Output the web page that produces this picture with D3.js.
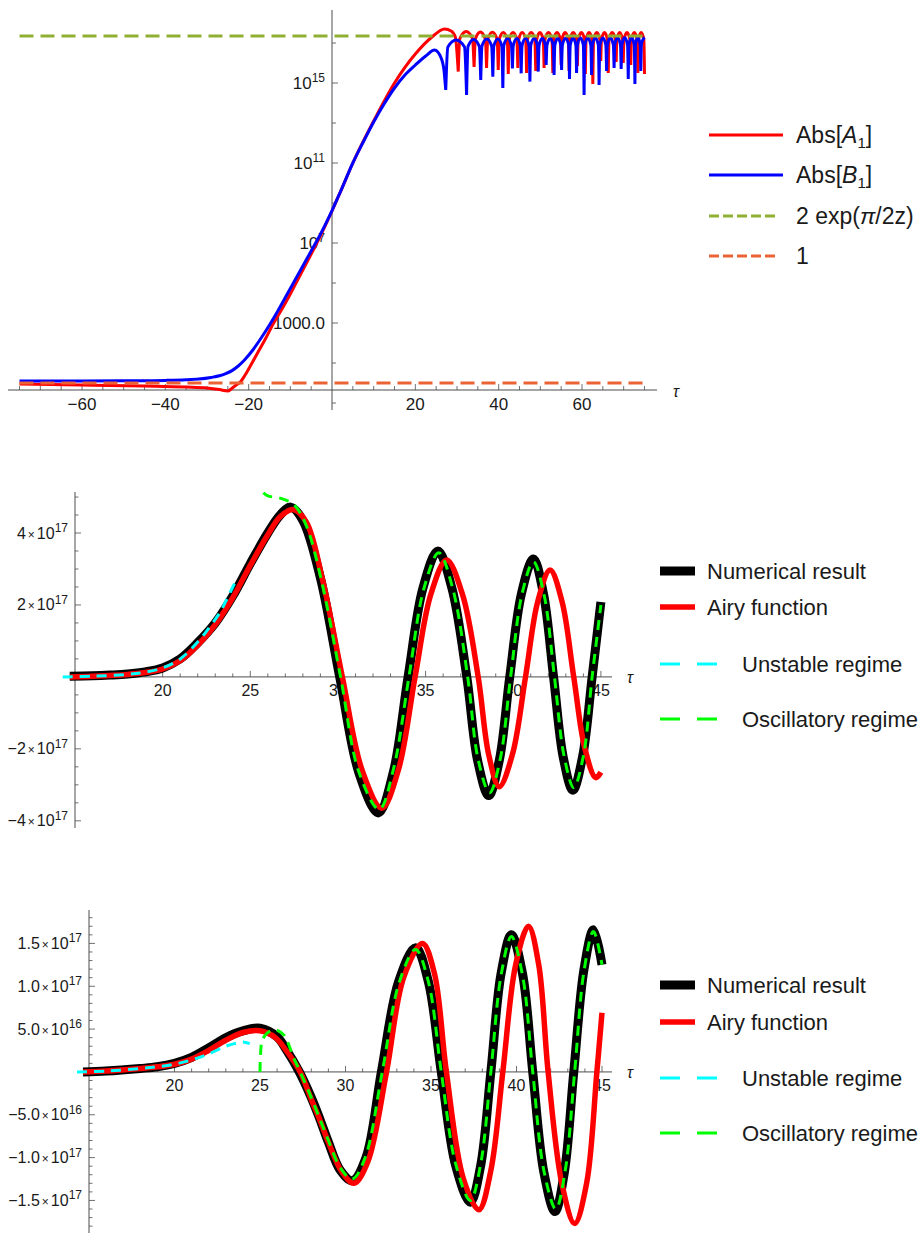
<!DOCTYPE html>
<html><head><meta charset="utf-8">
<script src="https://cdn.jsdelivr.net/npm/d3@7/dist/d3.min.js"></script>
<style>
body{margin:0;background:#fff;}
svg{display:block;}
text{font-family:"Liberation Sans",Arial,Helvetica,sans-serif;fill:#1a1a1a;}
</style></head><body>
<svg id="chart" width="922" height="1233"></svg>
<script>
// ================= DATA =================
// ---- Panel 1 : log10 of |A1| and |B1| versus tau ----
const p1A1Tau = [-75,-60,-45,-35,-30,-27,-25,-24.2,-23,-22,-21,-20,-18,-16,-14,-12,-10,-8,-6,-4,-2,0,2,5,10,15,20,24,27,28.6,29.6];
const p1A1Log = [-0.05,-0.1,-0.15,-0.2,-0.25,-0.33,-0.4,-0.3,-0.1,0.05,0.35,0.7,1.45,2.2,3.0,3.7,4.45,5.25,6.05,6.85,7.7,8.6,9.55,11.0,13.1,15.0,16.45,17.3,17.7,17.6,17.3];
const p1A1SpikeTau = [30.3,34.1,37.1,39.9,42.3,44.6,46.7,48.9,50.9,53.0,55.0,56.9,58.9,60.8,62.6,64.5,66.3,68.2,69.9,71.7,73.4,75.0];
const p1A1SpikeLog = [15.57,15.8,15.75,15.65,15.45,15.75,15.5,15.6,15.75,15.5,15.9,15.6,15.85,15.45,14.95,16.1,15.5,16.05,16.0,15.9,15.5,15.45];
const p1A1TopLog = [17.57,17.55,17.54,17.53,17.52,17.52,17.52,17.52,17.52,17.52,17.52,17.52,17.52,17.52,17.52,17.52,17.52,17.52,17.52,17.52,17.52];

const p1B1Tau = [-75,-60,-50,-40,-35,-32,-29,-27,-25.5,-24,-22.5,-21,-19,-17,-15,-13,-11,-9,-7,-5,-3,0,2,5,7.5,10,12.5,15,17.5,20,22.5,24.6,26.2,26.9];
const p1B1Log = [0.1,0.1,0.11,0.13,0.16,0.2,0.28,0.36,0.47,0.62,0.85,1.15,1.65,2.25,2.9,3.6,4.35,5.1,5.85,6.6,7.35,8.62,9.55,11.0,12.05,13.05,13.95,14.75,15.4,15.9,16.35,16.65,16.25,15.6];
const p1B1SpikeTau = [27.3,32.3,35.7,38.6,41.0,43.3,45.4,47.5,49.5,51.4,53.3,55.1,57.0,58.7,60.5,62.3,64.1,65.9,67.7,69.4,71.1,72.7,74.1];
const p1B1SpikeLog = [14.65,14.4,15.15,15.32,14.75,15.73,15.48,15.07,15.57,15.9,15.4,15.65,15.2,15.5,14.4,15.4,14.9,15.6,15.75,15.7,15.2,14.95,15.6];
const p1B1TopLog = [17.15,17.18,17.2,17.2,17.22,17.22,17.22,17.23,17.23,17.23,17.24,17.24,17.24,17.25,17.25,17.25,17.25,17.26,17.26,17.26,17.27,17.27];
const p1B1End = [75, 17.28];

const p1Asymptote = 2.24e17;   // 2 exp(pi/2z)
const p1One = 1;
const p1XMajor = [-60,-40,-20,20,40,60];
const p1XMinor = [-75,-70,-65,-55,-50,-45,-35,-30,-25,-15,-10,-5,5,10,15,25,30,35,45,50,55,65,70,75];
const p1YMajorExp = [3,7,11,15];
const p1YMinorExp = [-1,1,5,9,13,17];

// ---- Panel 2 : values in units of 1e17 ----
const p2NumTau = [14.7,16,17,18,19,20,21,22,23,24,25,26,26.7,27.3,28.0,29.0,30.1,31.2,32.3,33.15,34.0,34.85,35.7,36.5,37.35,37.97,38.6,39.2,39.8,40.47,41.15,41.72,42.3,42.85,43.4,43.95,44.5,45.0];
const p2NumVal = [0.02,0.03,0.05,0.08,0.14,0.25,0.5,0.95,1.5,2.25,3.15,4.0,4.5,4.72,4.35,2.75,0,-2.67,-3.78,-2.67,0,2.47,3.5,2.47,0,-2.33,-3.3,-2.33,0,2.32,3.28,2.32,0,-2.23,-3.15,-2.23,0,2.08];
const p2AiryTau = [14.7,16,18,19,20,21,22,23,24,25,26,26.7,27.45,28.2,29.1,30.25,31.37,32.5,33.45,34.4,35.3,36.2,37.1,38.0,38.6,39.2,39.95,40.7,41.4,42.1,42.78,43.45,44.08,44.7,45.0];
const p2AiryVal = [0.0,0.02,0.07,0.12,0.22,0.45,0.88,1.45,2.2,3.1,3.95,4.45,4.65,4.3,2.75,0,-2.58,-3.65,-2.58,0,2.3,3.25,2.3,0,-2.16,-3.05,-2.16,0,2.1,2.97,2.1,0,-1.98,-2.8,-2.65];
const p2UnstTau = [14.3,16,18,19,20,21,22,22.7,23.3,23.7,24.15];
const p2UnstVal = [0.0,0.02,0.07,0.13,0.25,0.5,0.97,1.4,1.82,2.2,2.65];
const p2OscTau = [25.75,26.0,26.7,27.5,28.2,29.05,30.15,31.2,32.35,33.15,34.05,34.9,35.75,36.55,37.4,38.0,38.65,39.25,39.85,40.5,41.15,41.75,42.35,42.9,43.45,44.0,44.5,45.0];
const p2OscVal = [5.12,5.03,4.97,4.78,4.2,2.7,0,-2.65,-3.68,-2.6,0,2.45,3.45,2.45,0,-2.3,-3.22,-2.3,0,2.3,3.2,2.3,0,-2.2,-3.08,-2.2,0,2.0];
const p2YTicks = [-4,-2,2,4];
const p2YMant = ["\u22124","\u22122","2","4"];
const p2YExp = ["17","17","17","17"];
const p2XTicks = [20,25,30,35,40,45];

// ---- Panel 3 : values in units of 1e17 ----
const p3NumTau = [14.65,16,18,19,20,21,22,23,24,25,26,26.6,27.3,28.0,28.5,29.0,29.7,30.4,31.2,32.1,33.1,34.1,34.85,35.6,36.45,37.3,37.9,38.5,39.1,39.7,40.35,40.95,41.6,42.25,42.8,43.35,43.95,44.5,45.0];
const p3NumVal = [0.0,0.01,0.04,0.06,0.1,0.17,0.28,0.4,0.48,0.51,0.41,0.24,0,-0.3,-0.55,-0.82,-1.15,-1.27,-1.0,0,1.05,1.45,1.05,0,-1.1,-1.52,-1.1,0,1.15,1.6,1.15,0,-1.17,-1.63,-1.17,0,1.2,1.66,1.25];
const p3AiryTau = [14.65,16,18,19,20,21,22,23,24,25,25.9,26.6,27.35,28.0,28.5,29.0,29.8,30.5,31.3,32.4,33.4,34.5,35.2,35.9,36.9,37.8,38.5,39.2,39.95,40.7,41.3,41.85,42.65,43.4,44.1,44.7,45.0];
const p3AiryVal = [0.0,0.01,0.04,0.06,0.09,0.15,0.25,0.37,0.46,0.48,0.4,0.23,0,-0.32,-0.56,-0.82,-1.17,-1.3,-1.05,0,1.1,1.5,1.15,0,-1.25,-1.61,-1.15,0,1.25,1.7,1.25,0,-1.3,-1.77,-1.3,0,0.69];
const p3UnstTau = [14.3,16,18,19,20,21,22,23,23.5,24,24.4];
const p3UnstVal = [0.0,0.01,0.04,0.06,0.09,0.14,0.21,0.3,0.33,0.35,0.33];
const p3OscTau = [25.0,25.03,25.12,25.35,25.65,25.95,26.4,27.0,27.35,28.0,28.5,29.0,29.7,30.4,31.15,32.15,33.15,34.1,34.85,35.6,36.45,37.3,37.9,38.5,39.1,39.7,40.35,40.95,41.6,42.3,42.85,43.4,43.95,44.5,45.0];
const p3OscVal = [0.0,0.2,0.36,0.44,0.48,0.49,0.43,0.15,0,-0.3,-0.55,-0.8,-1.12,-1.25,-1.0,0,1.05,1.43,1.05,0,-1.08,-1.5,-1.08,0,1.13,1.58,1.13,0,-1.15,-1.6,-1.15,0,1.18,1.64,1.25];
const p3YTicks = [-1.5,-1.0,-0.5,0.5,1.0,1.5];
const p3YMant = ["\u22121.5","\u22121.0","\u22125.0","5.0","1.0","1.5"];
const p3YExp = ["17","17","16","16","17","17"];
const p3XTicks = [20,25,30,35,40,45];

const legend1 = ["Abs[A1]","Abs[B1]","2 exp(\u03c0/2z)","1"];
const legend23 = ["Numerical result","Airy function","Unstable regime","Oscillatory regime"];

// ================= DRAW =================
const svg = d3.select("#chart");
svg.append("rect").attr("width",922).attr("height",1233).attr("fill","#fff");
const AX = "#4d4d4d";
const zip = (a,b)=>a.map((t,i)=>[t,b[i]]);

function line(g,x1,y1,x2,y2,w){
  g.append("line").attr("x1",x1).attr("y1",y1).attr("x2",x2).attr("y2",y2)
   .attr("stroke",AX).attr("stroke-width",w||1);
}

// ---------- Panel 1 ----------
(function(){
  const g = svg.append("g");
  const x = d3.scaleLinear().domain([-75,75]).range([19.5,644.5]);
  const y = d3.scaleLog().domain([Math.pow(10,-1.35),Math.pow(10,18.65)]).range([410,10]);
  const yl = v=>y(Math.pow(10,v));
  const axY = yl(-0.35), axX = x(0);
  line(g,8,axY,657,axY);
  line(g,axX,10,axX,410);
  p1XMajor.forEach(t=>line(g,x(t),axY,x(t),axY-6,0.8));
  p1XMinor.forEach(t=>line(g,x(t),axY,x(t),axY-4,0.8));
  p1YMajorExp.forEach(e=>line(g,axX,yl(e),axX+6,yl(e),0.8));
  p1YMinorExp.forEach(e=>line(g,axX,yl(e),axX+4,yl(e),0.8));
  g.selectAll(".xl").data(p1XMajor).enter().append("text")
    .attr("x",d=>x(d)).attr("y",axY+20).attr("text-anchor","middle").attr("font-size",17)
    .text(d=>d<0?"\u2212"+Math.abs(d):String(d));
  p1YMajorExp.forEach(e=>{
    const t = g.append("text").attr("x",325).attr("y",yl(e)+6).attr("text-anchor","end").attr("font-size",17);
    if(e===3){ t.text("1000.0"); }
    else { t.append("tspan").text("10"); t.append("tspan").attr("dy",-7).attr("font-size",12).text(String(e)); }
  });
  g.append("text").attr("x",676).attr("y",397).attr("text-anchor","middle").attr("font-size",16)
    .attr("font-style","italic").text("\u03c4");

  const gen = d3.line().x(d=>x(d[0])).y(d=>yl(d[1])).curve(d3.curveMonotoneX);
  function spiky(smT,smL,spT,spL,topL,end){
    const segs=[zip(smT,smL).concat([[spT[0],spL[0]]])];
    for(let i=0;i<spT.length-1;i++){
      const a=spT[i], b=spT[i+1], w=b-a, m=(a+b)/2, top=topL[i];
      segs.push([[a,spL[i]],[a+0.1*w,top-0.35],[m,top],[b-0.1*w,top-0.35],[b,spL[i+1]]]);
    }
    if(end){
      const a=spT[spT.length-1], w=end[0]-a;
      segs.push([[a,spL[spL.length-1]],[a+0.2*w,end[1]-0.3],[end[0],end[1]]]);
    }
    return segs.map(s=>gen(s)).join("");
  }
  g.append("path").attr("d",spiky(p1A1Tau,p1A1Log,p1A1SpikeTau,p1A1SpikeLog,p1A1TopLog,null))
    .attr("fill","none").attr("stroke","#ff0000").attr("stroke-width",3);
  g.append("path").attr("d",spiky(p1B1Tau,p1B1Log,p1B1SpikeTau,p1B1SpikeLog,p1B1TopLog,p1B1End))
    .attr("fill","none").attr("stroke","#0000ff").attr("stroke-width",3);
  g.append("line").attr("x1",x(-75)).attr("x2",x(75)).attr("y1",y(p1Asymptote)).attr("y2",y(p1Asymptote))
    .attr("stroke","#8FB032").attr("stroke-width",3).attr("stroke-dasharray","14,7");
  g.append("line").attr("x1",x(-75)).attr("x2",x(75)).attr("y1",y(p1One)).attr("y2",y(p1One))
    .attr("stroke","#EB6235").attr("stroke-width",3).attr("stroke-dasharray","14,7");

  const rows=[135,175,216,256];
  const cols=["#ff0000","#0000ff","#8FB032","#EB6235"];
  rows.forEach((ry,i)=>{
    g.append("line").attr("x1",709).attr("x2",i<2?783:779).attr("y1",ry).attr("y2",ry)
      .attr("stroke",cols[i]).attr("stroke-width",3).attr("stroke-dasharray",i<2?null:"10,4");
    const t=g.append("text").attr("x",796).attr("y",ry+8).attr("font-size",23);
    if(i<2){
      t.append("tspan").text("Abs[");
      t.append("tspan").attr("font-style","italic").text(legend1[i].charAt(4));
      t.append("tspan").attr("font-size",15).attr("dy",5).text("1");
      t.append("tspan").attr("dy",-5).text("]");
    } else if(i===2){
      t.append("tspan").text("2 exp(");
      t.append("tspan").attr("font-style","italic").text("\u03c0");
      t.append("tspan").text("/2z)");
    } else t.text(legend1[3]);
  });
})();

// ---------- Panels 2 & 3 ----------
function oscPanel(cfg){
  const g = svg.append("g");
  const x = d3.scaleLinear().domain([15,45]).range(cfg.xr);
  const y = d3.scaleLinear().domain(cfg.yd).range(cfg.yr);
  const axY = y(0), axX = x(15);
  line(g,cfg.axStart,axY,612,axY);
  line(g,axX,cfg.yr[1],axX,cfg.yr[0]);
  d3.range(16,46).forEach(t=>{ const maj=t%5===0; line(g,x(t),axY,x(t),axY-(maj?6:3.5),0.8); });
  cfg.yMinor.forEach(v=>{ if(Math.abs(v)>1e-9) line(g,axX,y(v),axX+(cfg.yTicks.some(m=>Math.abs(m-v)<1e-9)?6:3.5),y(v),0.8); });
  g.selectAll(".xl").data(cfg.xTicks).enter().append("text")
    .attr("x",d=>x(d)).attr("y",axY+19.5).attr("text-anchor","middle").attr("font-size",16).text(d=>d);
  cfg.yTicks.forEach((v,i)=>{
    const t=g.append("text").attr("x",axX-7).attr("y",y(v)+5.5).attr("text-anchor","end").attr("font-size",16);
    t.append("tspan").text(cfg.yMant[i]);
    t.append("tspan").attr("dx",2).attr("font-size",12).text("\u00d7");
    t.append("tspan").attr("dx",2).text("10");
    t.append("tspan").attr("dy",-6.5).attr("font-size",12).text(cfg.yExp[i]);
  });
  g.append("text").attr("x",630).attr("y",axY+6).attr("text-anchor","middle").attr("font-size",16)
    .attr("font-style","italic").text("\u03c4");

  const gen = d3.line().x(d=>x(d[0])).y(d=>y(d[1])).curve(d3.curveCatmullRom.alpha(0.5));
  g.append("path").attr("d",gen(zip(cfg.num[0],cfg.num[1]))).attr("fill","none").attr("stroke","#000").attr("stroke-width",9).attr("stroke-linejoin","round");
  g.append("path").attr("d",gen(zip(cfg.airy[0],cfg.airy[1]))).attr("fill","none").attr("stroke","#ff0000").attr("stroke-width",5.5).attr("stroke-linejoin","round");
  g.append("path").attr("d",gen(zip(cfg.unst[0],cfg.unst[1]))).attr("fill","none").attr("stroke","#00ffff").attr("stroke-width",3).attr("stroke-dasharray","10,7");
  g.append("path").attr("d",gen(zip(cfg.osc[0],cfg.osc[1]))).attr("fill","none").attr("stroke","#00ff00").attr("stroke-width",3).attr("stroke-dasharray","10,7");

  const cols=["#000","#ff0000","#00ffff","#00ff00"];
  cfg.legRows.forEach((ry,i)=>{
    if(i<2){
      g.append("line").attr("x1",660).attr("x2",695).attr("y1",ry).attr("y2",ry).attr("stroke",cols[i]).attr("stroke-width",i===0?9:5.5);
    } else {
      g.append("line").attr("x1",660).attr("x2",717).attr("y1",ry).attr("y2",ry).attr("stroke",cols[i]).attr("stroke-width",3).attr("stroke-dasharray","20,17");
    }
    g.append("text").attr("x",i<2?707:742).attr("y",ry+8).attr("font-size",22).text(legend23[i]);
  });
}

oscPanel({
  xr:[75,600.9], yd:[-4.2,5.14], yr:[828,492], axStart:63,
  yTicks:p2YTicks, yMant:p2YMant, yExp:p2YExp, xTicks:p2XTicks,
  yMinor:d3.range(-4,5.01,0.5),
  num:[p2NumTau,p2NumVal], airy:[p2AiryTau,p2AiryVal], unst:[p2UnstTau,p2UnstVal], osc:[p2OscTau,p2OscVal],
  legRows:[571,607,664,719]
});
oscPanel({
  xr:[89,602], yd:[-1.88,1.89], yr:[1233,910], axStart:77,
  yTicks:p3YTicks, yMant:p3YMant, yExp:p3YExp, xTicks:p3XTicks,
  yMinor:d3.range(-1.8,1.81,0.1),
  num:[p3NumTau,p3NumVal], airy:[p3AiryTau,p3AiryVal], unst:[p3UnstTau,p3UnstVal], osc:[p3OscTau,p3OscVal],
  legRows:[985,1022,1078,1133]
});
</script>
</body></html>
